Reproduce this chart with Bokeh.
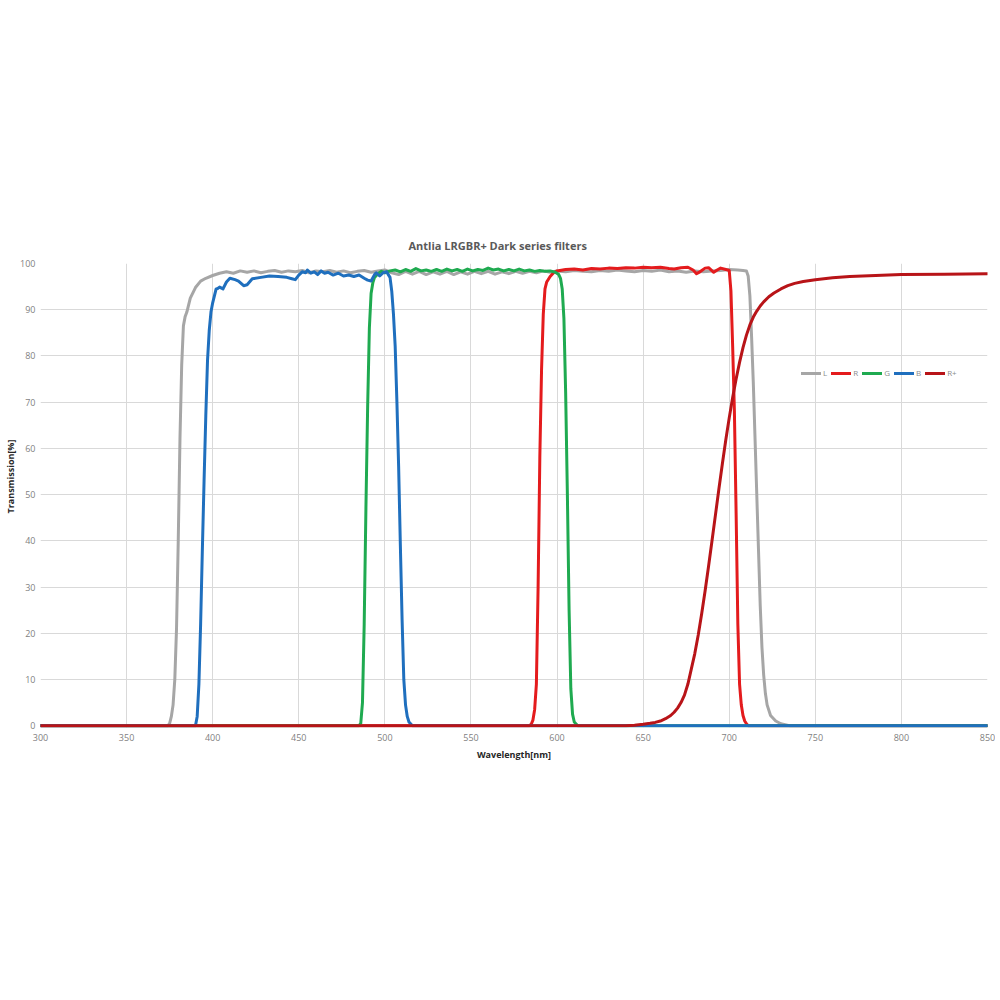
from bokeh.plotting import figure
from bokeh.models import Range1d, FixedTicker, Title
from bokeh.embed import file_html
from bokeh.resources import INLINE

TITLE = "Antlia LRGBR+ Dark series filters"
X_LABEL = "Wavelength[nm]"
Y_LABEL = "Transmission[%]"
x_ticks = [300, 350, 400, 450, 500, 550, 600, 650, 700, 750, 800, 850]
y_ticks = [0, 10, 20, 30, 40, 50, 60, 70, 80, 90, 100]

# L filter (gray)
L_nm = [300, 374, 375, 376, 377, 378, 379, 380, 381, 382, 383, 384, 385,
        387, 390, 393, 396,
        400, 404, 408, 412, 416, 420, 424, 428, 432, 436, 440, 444, 448, 452, 456, 460,
        464, 468, 472, 476, 480, 484, 488, 492, 496,
        500, 504, 508, 512, 516, 520, 524, 528, 532, 536, 540, 544, 548, 552, 556, 560,
        564, 568, 572, 576, 580, 584, 588, 592, 596,
        600, 605, 610, 615, 620, 625, 630, 635, 640, 645, 650, 655, 660, 665, 670, 675,
        680, 685, 690, 695, 700, 705,
        708, 710,
        711, 712, 713, 714, 715, 716, 717, 718, 719, 720, 721, 722,
        724, 727, 730, 735, 850]
L_pct = [0, 0, 0.5, 2, 4.5, 10, 21, 40, 62, 78, 86.5, 88.5, 89.5,
         92.5, 94.8, 96.2, 96.8,
         97.4, 97.9, 98.2, 97.9, 98.4, 98.1, 98.4, 98.0, 98.3, 98.5, 98.1, 98.4, 98.2, 98.5, 98.0, 98.4,
         98.2, 98.5, 98.1, 98.4, 98.0, 98.3, 98.5, 98.1, 98.4,
         98.6, 98.0, 97.6, 98.3, 97.7, 98.3, 97.6, 98.2, 97.7, 98.3, 97.6, 98.2, 97.7, 98.3, 97.8, 98.3,
         97.7, 98.2, 97.8, 98.3, 97.9, 98.3, 98.0, 98.4, 98.1,
         98.4, 98.2, 98.5, 98.3, 98.2, 98.5, 98.3, 98.6, 98.4, 98.2, 98.5, 98.3, 98.6, 98.2, 98.4, 98.1,
         98.4, 98.2, 98.4, 98.5, 98.7, 98.6,
         98.5, 98.4,
         97.3, 93, 84, 74, 62, 50, 38, 26, 17, 11, 7, 4.5,
         2.2, 1, 0.4, 0, 0]

# R filter (red)
R_nm = [300, 584, 585, 586, 587, 588, 589, 590, 591, 592, 593, 594,
        596, 598,
        600, 605, 610, 615, 620, 625, 630, 635, 640, 645, 650, 655, 660, 665,
        668, 672, 676, 679, 681, 683, 686, 688, 691, 693, 695, 698,
        700, 701, 702, 703, 704, 705, 706, 707, 708, 709, 710, 711, 850]
R_pct = [0, 0, 0.3, 1.2, 3.5, 9, 30, 58, 77, 89, 94.5, 96,
         97.2, 98.0,
         98.4, 98.7, 98.8, 98.6, 98.9, 98.8, 99.0, 98.9, 99.1, 99.0, 99.2, 99.1, 99.2, 98.9,
         98.8, 99.1, 99.2, 98.6, 97.8, 98.2, 99.0, 99.1, 98.1, 98.6, 99.0, 98.7,
         98.5, 94, 82, 68, 46, 22, 9, 4.5, 2.2, 1.0, 0.4, 0, 0]

# G filter (green)
G_nm = [300, 485, 486, 487, 488, 489, 490, 491, 492, 493, 494, 496, 498,
        500, 503, 506, 509, 512, 515, 518, 521, 524, 527, 530, 533, 536, 539, 542, 545,
        548, 551, 554, 557, 560, 563, 566, 569, 572, 575, 578, 581, 584, 587, 590, 593,
        596, 599,
        601, 602, 603, 604, 605, 606, 607, 608, 609, 610, 612, 850]
G_pct = [0, 0, 0.5, 5, 22, 47, 69, 86, 93.5, 95.8, 97, 97.8, 98.3,
         98.0, 98.4, 98.6, 98.2, 98.7, 98.3, 98.9, 98.4, 98.6, 98.3, 98.7, 98.3, 98.8, 98.4, 98.7, 98.3,
         98.8, 98.4, 98.7, 98.5, 99.0, 98.6, 98.8, 98.4, 98.7, 98.4, 98.8, 98.4, 98.6, 98.3, 98.5, 98.3,
         98.4, 98.1,
         97.6, 96.8, 94.5, 88, 72, 50, 25, 8, 2.5, 0.8, 0, 0]

# B filter (blue)
B_nm = [300, 390, 391, 392, 393, 394, 395, 396, 397, 398, 399, 400, 401, 402, 403, 404,
        406, 408, 410, 413, 415, 418, 420, 423, 428, 433, 438, 443,
        446, 448, 450, 452, 454, 455, 457, 459, 461, 463, 465, 467,
        470, 473, 476, 479, 482, 485, 488, 490, 492, 494, 495, 497, 499, 501, 502,
        503, 504, 505, 506, 507, 508, 509, 510, 511, 512, 513, 514, 516, 850]
B_pct = [0, 0, 2, 9, 22, 38, 53, 67, 79, 85.5, 89.5, 91.5, 93, 94.5, 94.6, 94.9,
         94.5, 96, 96.8, 96.5, 96.2, 95.2, 95.4, 96.7, 97, 97.3, 97.2, 97,
         96.7, 96.5, 97.5, 98.2, 98.0, 98.6, 97.9, 98.2, 97.6, 98.4, 97.9, 98.1,
         97.5, 97.9, 97.3, 97.5, 97.2, 97.5, 96.8, 96.4, 96.2, 97.6, 98.0, 97.3, 98.0, 98.2, 97.6,
         97, 94, 89, 82, 70, 56, 39, 23, 10, 4.5, 2, 0.8, 0, 0]

# R+ filter (dark red)
RP_nm = [300, 640, 645, 650, 654, 657, 660, 663, 666, 668,
         670, 672, 674, 676, 678, 680, 682, 684, 686, 688,
         690, 692, 694, 696, 698, 700, 702, 704, 706, 708,
         710, 712, 714, 716, 718, 720, 723, 726, 730, 734,
         738, 743, 750, 760, 770, 785, 800, 825, 850]
RP_pct = [0, 0, 0.1, 0.3, 0.5, 0.7, 1.0, 1.5, 2.2, 2.9,
          3.8, 5.0, 6.6, 9.0, 12.3, 15.6, 19.6, 24.2, 29.2, 34.5,
          40.0, 45.6, 51.2, 56.6, 61.8, 66.6, 71.0, 75.0, 78.6, 81.8,
          84.5, 86.7, 88.4, 89.7, 90.8, 91.7, 92.8, 93.6, 94.5, 95.2,
          95.7, 96.1, 96.5, 96.9, 97.2, 97.4, 97.6, 97.7, 97.8]

series = [
    ("L", L_nm, L_pct, "#a6a6a6"),
    ("R", R_nm, R_pct, "#e41b1d"),
    ("G", G_nm, G_pct, "#1faa50"),
    ("B", B_nm, B_pct, "#1f6fbe"),
    ("R+", RP_nm, RP_pct, "#b81418"),
]

FONT = "Open Sans"

p = figure(width=995, height=995, output_backend="svg", toolbar_location=None,
           x_range=Range1d(300, 850), y_range=Range1d(-0.4, 100),
           min_border_left=39, min_border_right=8, min_border_top=263,
           min_border_bottom=268, title=TITLE)
p.outline_line_color = None
p.background_fill_color = "white"
p.border_fill_color = "white"

p.title.align = "left"
p.title.offset = 368
p.title.text_font = FONT
p.title.text_font_style = "bold"
p.title.text_font_size = "11px"
p.title.text_color = "#595959"
p.title.standoff = 22

for ax in (p.xaxis[0], p.yaxis[0]):
    ax.axis_line_color = None
    ax.major_tick_line_color = None
    ax.minor_tick_line_color = None
    ax.major_tick_out = 0
    ax.major_label_text_font = FONT
    ax.major_label_text_font_size = "9px"
    ax.major_label_text_color = "#7f7f7f"
    ax.axis_label_text_font = FONT
    ax.axis_label_text_font_size = "9px"
    ax.axis_label_text_font_style = "bold"
    ax.axis_label_text_color = "#262626"

p.xaxis.ticker = FixedTicker(ticks=x_ticks)
p.yaxis.ticker = FixedTicker(ticks=y_ticks)
p.xaxis.axis_label = X_LABEL
p.xaxis.major_label_standoff = 6
p.xaxis.axis_label_standoff = 4
p.yaxis.major_label_standoff = 5

# y-axis title as a side title, starting a little above the frame centre
ytitle = Title(text=Y_LABEL, align="left", offset=214, standoff=2,
               text_font=FONT, text_font_size="9px", text_font_style="bold",
               text_color="#262626")
p.add_layout(ytitle, "left")

p.xgrid.grid_line_color = "#d9d9d9"
p.ygrid.grid_line_color = "#d9d9d9"
p.xgrid.grid_line_width = 1
p.ygrid.grid_line_width = 1

for name, xs, ys, col in series:
    p.line(xs, ys, line_color=col, line_width=3, line_join="round",
           line_cap="round", legend_label=name)

lg = p.legend[0]
lg.location = (761, 349)
lg.orientation = "horizontal"
lg.background_fill_alpha = 0
lg.border_line_color = None
lg.padding = 0
lg.margin = 0
lg.spacing = 4
lg.glyph_width = 20
lg.glyph_height = 10
lg.label_height = 10
lg.label_width = 0
lg.label_standoff = 2
lg.label_text_font = FONT
lg.label_text_font_size = "8px"
lg.label_text_color = "#8c8c8c"

open("out.html", "w").write(file_html(p, INLINE))
